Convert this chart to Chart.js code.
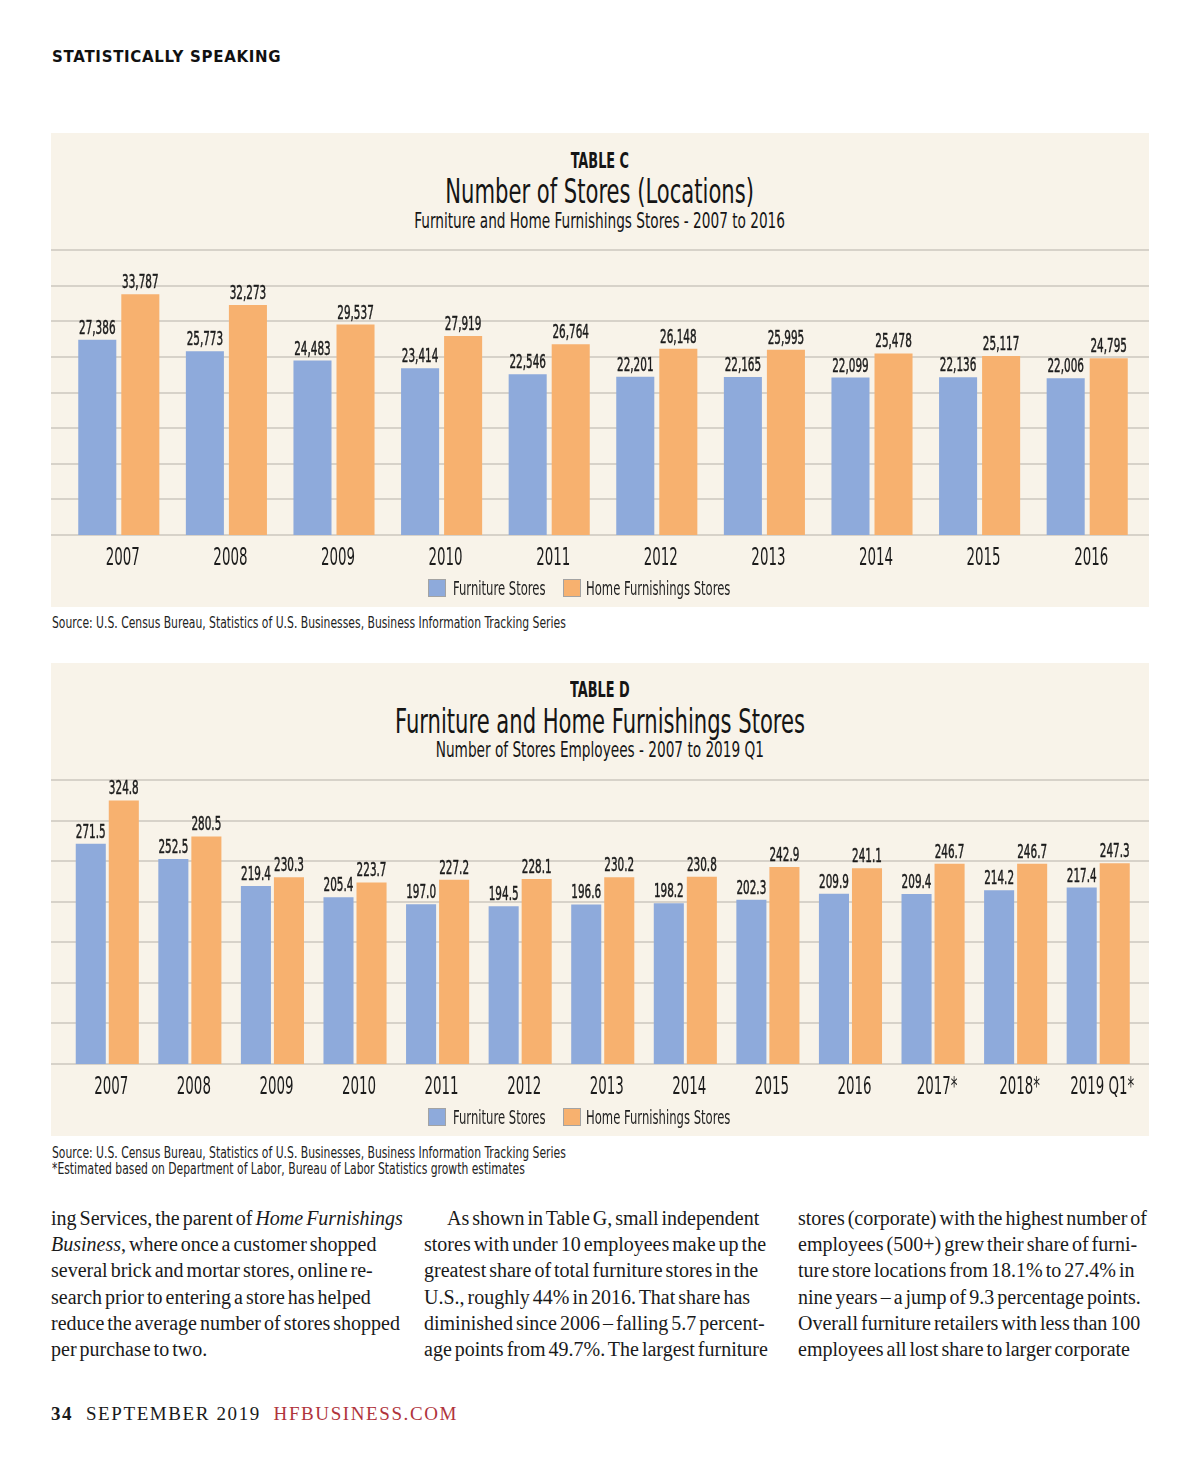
<!DOCTYPE html>
<html>
<head>
<meta charset="utf-8">
<script src="https://cdn.jsdelivr.net/npm/chart.js@4.4.0/dist/chart.umd.min.js"></script>
<style>
body { margin: 0; background: #fff; width: 1200px; height: 1471px; position: relative; overflow: hidden; }
.abs { position: absolute; }
.hdr { left: 52px; top: 48px; font: bold 15px "DejaVu Sans", sans-serif; letter-spacing: 0.7px; color: #111; }
.panel { left: 51px; width: 1098px; background: #f8f3e9; }
.ttl { left: 51px; width: 1098px; text-align: center; color: #151515; white-space: nowrap;
  font-family: "DejaVu Sans Condensed", sans-serif; }
.ttl span { display: inline-block; transform: scaleX(0.69); }
.ttl.b span { transform: scaleX(0.65); }
.src { left: 52px; color: #222; white-space: nowrap; font: 15px "DejaVu Sans Condensed", sans-serif; line-height: 16px;
  transform: scaleX(0.8); transform-origin: left top; }
.lgbox { width: 16px; height: 16px; border: 1px solid #a3a3a3; }
.lgtxt { white-space: nowrap; font: 19px "DejaVu Sans Condensed", sans-serif; color: #1f1f1f; line-height: 22px;
  transform: scaleX(0.68); transform-origin: left center; }
.col { top: 1205px; font: 20px "Liberation Serif", serif; line-height: 26.2px; color: #1a1a1a; white-space: nowrap; word-spacing: -2px; }
.foot { left: 51px; top: 1403px; font: 19px "Liberation Serif", serif; letter-spacing: 1.6px; color: #1a1a1a; white-space: nowrap; }
canvas { position: absolute; left: 51px; }
</style>
</head>
<body>
<div class="abs hdr">STATISTICALLY SPEAKING</div>

<div class="abs panel" style="top:133px;height:474px"></div>
<div class="abs ttl b" style="top:146px;font-size:22px;font-weight:bold;line-height:30px"><span>TABLE C</span></div>
<div class="abs ttl" style="top:171px;font-size:34px;line-height:40px"><span>Number of Stores (Locations)</span></div>
<div class="abs ttl" style="top:206px;font-size:22px;line-height:30px"><span>Furniture and Home Furnishings Stores - 2007 to 2016</span></div>
<canvas id="storesChart" width="1098" height="364" style="top:243px"></canvas>
<div class="abs src" style="top:615px">Source: U.S. Census Bureau, Statistics of U.S. Businesses, Business Information Tracking Series</div>

<div class="abs panel" style="top:663px;height:473px"></div>
<div class="abs ttl b" style="top:675px;font-size:22px;font-weight:bold;line-height:30px"><span>TABLE D</span></div>
<div class="abs ttl" style="top:701px;font-size:34px;line-height:40px"><span>Furniture and Home Furnishings Stores</span></div>
<div class="abs ttl" style="top:735px;font-size:22px;line-height:30px"><span>Number of Stores Employees - 2007 to 2019 Q1</span></div>
<canvas id="employeesChart" width="1098" height="363" style="top:773px"></canvas>
<div class="abs src" style="top:1145px">Source: U.S. Census Bureau, Statistics of U.S. Businesses, Business Information Tracking Series<br>*Estimated based on Department of Labor, Bureau of Labor Statistics growth estimates</div>

<div class="abs col" style="left:51px">
<div>ing Services, the parent of <i>Home Furnishings</i></div>
<div><i>Business</i>, where once a customer shopped</div>
<div>several brick and mortar stores, online re-</div>
<div>search prior to entering a store has helped</div>
<div>reduce the average number of stores shopped</div>
<div>per purchase to two.</div>
</div>
<div class="abs col" style="left:424px">
<div style="padding-left:23px">As shown in Table G, small independent</div>
<div>stores with under 10 employees make up the</div>
<div>greatest share of total furniture stores in the</div>
<div>U.S., roughly 44% in 2016. That share has</div>
<div>diminished since 2006 – falling 5.7 percent-</div>
<div>age points from 49.7%. The largest furniture</div>
</div>
<div class="abs col" style="left:798px">
<div>stores (corporate) with the highest number of</div>
<div>employees (500+) grew their share of furni-</div>
<div>ture store locations from 18.1% to 27.4% in</div>
<div>nine years – a jump of 9.3 percentage points.</div>
<div>Overall furniture retailers with less than 100</div>
<div>employees all lost share to larger corporate</div>
</div>

<div class="abs foot"><b>34</b>&nbsp; SEPTEMBER 2019 &nbsp;<span style="color:#b0343c">HFBUSINESS.COM</span></div>

<script>
var cond = '"DejaVu Sans Condensed", sans-serif';
var blue = '#8eaadb';
var orange = '#f7b16f';

// Table C - number of stores
var storeYears = ["2007", "2008", "2009", "2010", "2011", "2012", "2013", "2014", "2015", "2016"];
var furnitureStores = [27386, 25773, 24483, 23414, 22546, 22201, 22165, 22099, 22136, 22006];
var homeFurnStores = [33787, 32273, 29537, 27919, 26764, 26148, 25995, 25478, 25117, 24795];

// Table D - employees (thousands)
var empYears = ["2007", "2008", "2009", "2010", "2011", "2012", "2013", "2014", "2015", "2016", "2017*", "2018*", "2019 Q1*"];
var furnitureEmp = [271.5, 252.5, 219.4, 205.4, 197.0, 194.5, 196.6, 198.2, 202.3, 209.9, 209.4, 214.2, 217.4];
var homeFurnEmp = [324.8, 280.5, 230.3, 223.7, 227.2, 228.1, 230.2, 230.8, 242.9, 241.1, 246.7, 246.7, 247.3];

// horizontal grid lines run the full width of the panel
var fullGrid = {
  id: 'fullGrid',
  beforeDatasetsDraw: function(chart, args, opts) {
    var ctx = chart.ctx, y = chart.scales.y;
    ctx.save();
    ctx.strokeStyle = '#ccc7be';
    ctx.lineWidth = 1.5;
    for (var v = y.min; v <= y.max; v += opts.step) {
      var py = Math.round(y.getPixelForValue(v));
      ctx.beginPath();
      ctx.moveTo(0, py);
      ctx.lineTo(chart.width, py);
      ctx.stroke();
    }
    ctx.restore();
  }
};

// value labels above the bars and year labels under them, squeezed to look condensed
var squeezedText = {
  id: 'squeezedText',
  afterDatasetsDraw: function(chart, args, opts) {
    var ctx = chart.ctx, x = chart.scales.x;
    ctx.save();
    ctx.fillStyle = '#1b1b1b';
    ctx.strokeStyle = '#1b1b1b';
    ctx.lineWidth = 0.5;
    ctx.textAlign = 'center';
    ctx.textBaseline = 'alphabetic';
    chart.data.datasets.forEach(function(ds, i) {
      chart.getDatasetMeta(i).data.forEach(function(bar, j) {
        var txt = opts.format(ds.data[j]);
        ctx.save();
        ctx.translate(bar.x, bar.y - 6);
        ctx.scale(0.58, 1);
        ctx.font = '20px ' + cond;
        ctx.fillText(txt, 0, 0);
        ctx.strokeText(txt, 0, 0);
        ctx.restore();
      });
    });
    chart.data.labels.forEach(function(lab, i) {
      ctx.save();
      ctx.translate(x.getPixelForValue(i) + 4, chart.chartArea.bottom + 30);
      ctx.scale(0.62, 1);
      ctx.font = '24px ' + cond;
      ctx.fillText(lab, 0, 0);
      ctx.restore();
    });
    ctx.restore();
  }
};

function htmlLegend(chart, top) {
  var lefts = [428, 563];
  chart.data.datasets.forEach(function(ds, i) {
    var box = document.createElement('div');
    box.className = 'abs lgbox';
    box.style.left = lefts[i] + 'px';
    box.style.top = (top - 9) + 'px';
    box.style.background = ds.backgroundColor;
    document.body.appendChild(box);
    var txt = document.createElement('div');
    txt.className = 'abs lgtxt';
    txt.style.left = (lefts[i] + 25 - (i ? 2 : 0)) + 'px';
    txt.style.top = (top - 11) + 'px';
    txt.textContent = ds.label;
    document.body.appendChild(txt);
  });
}

function makeChart(id, labels, a, b, ymax, step, barPct, pad, fmt) {
  return new Chart(document.getElementById(id).getContext('2d'), {
    type: 'bar',
    data: {
      labels: labels,
      datasets: [
        { label: 'Furniture Stores', data: a, backgroundColor: blue, categoryPercentage: 0.8, barPercentage: barPct },
        { label: 'Home Furnishings Stores', data: b, backgroundColor: orange, categoryPercentage: 0.8, barPercentage: barPct }
      ]
    },
    options: {
      responsive: false,
      animation: false,
      layout: { padding: pad },
      scales: {
        x: { display: false },
        y: { display: false, min: 0, max: ymax }
      },
      plugins: {
        legend: { display: false },
        tooltip: { enabled: false },
        fullGrid: { step: step },
        squeezedText: { format: fmt }
      }
    },
    plugins: [fullGrid, squeezedText]
  });
}

var storesChart = makeChart('storesChart', storeYears, furnitureStores, homeFurnStores, 40000, 5000, 0.884,
  { left: 14, right: 8, top: 7, bottom: 72 },
  function(v) { return v.toLocaleString('en-US'); });
htmlLegend(storesChart, 588);

var employeesChart = makeChart('employeesChart', empYears, furnitureEmp, homeFurnEmp, 350, 50, 0.91,
  { left: 15, right: 9.5, top: 7, bottom: 72 },
  function(v) { return v.toFixed(1); });
htmlLegend(employeesChart, 1117);
</script>
</body>
</html>
